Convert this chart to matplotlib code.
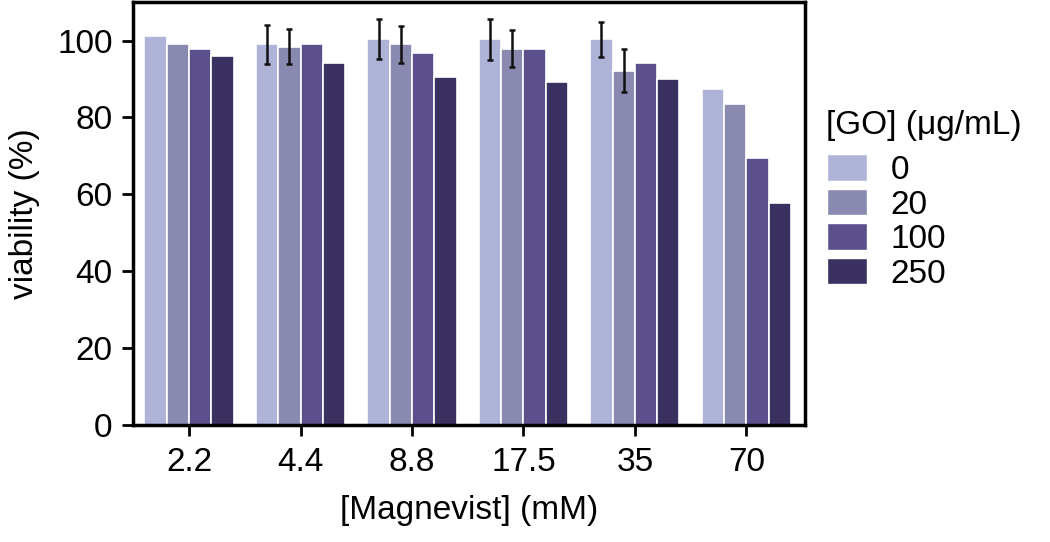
import matplotlib
matplotlib.use("Agg")
import matplotlib.pyplot as plt
import numpy as np
from matplotlib.patches import Patch

plt.rcParams['font.family'] = ['Liberation Sans', 'DejaVu Sans']

# data
magnevist = ['2.2', '4.4', '8.8', '17.5', '35', '70']
go_levels = ['0', '20', '100', '250']
viab_0 = [101.3, 99.0, 100.5, 100.3, 100.3, 87.5]
viab_20 = [99.0, 98.4, 99.0, 97.9, 92.2, 83.4]
viab_100 = [97.7, 99.2, 96.9, 97.7, 94.3, 69.4]
viab_250 = [96.1, 94.3, 90.4, 89.1, 90.1, 57.7]
# error bars (nan = not shown)
err_0 = [np.nan, 5.0, 5.2, 5.3, 4.5, np.nan]
err_20 = [np.nan, 4.5, 4.9, 4.8, 5.6, np.nan]

colors = ['#b0b3d8', '#8a89b0', '#5b4f8c', '#3a3160']

fig = plt.figure(figsize=(10.5, 5.42), dpi=100)
ax = fig.add_axes([0.127, 0.216, 0.640, 0.78])

x = np.arange(len(magnevist))
w = 0.2
series = [viab_0, viab_20, viab_100, viab_250]
errs = [err_0, err_20, None, None]
for i, (vals, c) in enumerate(zip(series, colors)):
    pos = x + (i - 1.5) * w
    ax.bar(pos, vals, width=w, color=c, edgecolor='white', linewidth=1.2)
    if errs[i] is not None:
        e = np.array(errs[i])
        m = ~np.isnan(e)
        ax.errorbar(pos[m], np.array(vals)[m], yerr=e[m], fmt='none',
                    ecolor='#111111', elinewidth=1.8, capsize=2.5, capthick=1.8)

ax.set_xlim(-0.5, 5.53)
ax.set_ylim(0, 110)
ax.set_yticks([0, 20, 40, 60, 80, 100])
ax.set_xticks(x)
ax.set_xticklabels(magnevist)
ax.tick_params(axis='both', labelsize=24, width=2, length=8, direction='out')
ax.tick_params(axis='x', pad=8)
ax.tick_params(axis='y', pad=7)
for s in ax.spines.values():
    s.set_linewidth(2.5)

ax.set_ylabel('viability (%)', fontsize=24, labelpad=12)
ax.set_xlabel('[Magnevist] (mM)', fontsize=24, labelpad=12)

# legend title placed separately to get the gap seen in the original
fig.text(0.787, 1 - 134 / 542, '[GO] (\u03bcg/mL)', fontsize=24, ha='left', va='baseline')
handles = [Patch(facecolor=c, edgecolor='white') for c in colors]
leg = fig.legend(handles, go_levels, loc='upper left',
                 bbox_to_anchor=(0.7656, 1 - 131 / 542), frameon=False, fontsize=24,
                 handlelength=1.2, handleheight=0.85,
                 labelspacing=0.08, handletextpad=0.7, borderpad=0.2)

fig.savefig('out.png', dpi=100)
